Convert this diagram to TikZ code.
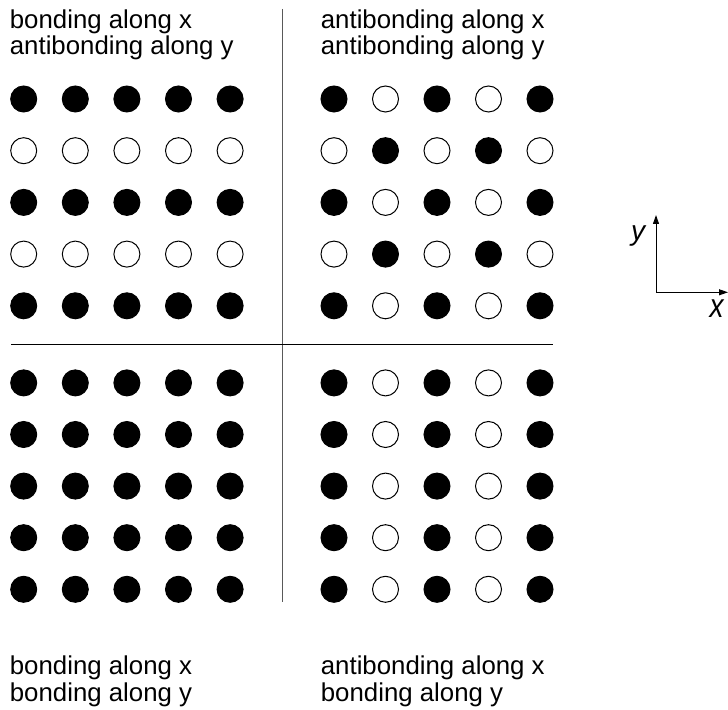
\documentclass[tikz,border=0pt]{standalone}
\usepackage{fontspec}
\setmainfont{Liberation Sans}
\usetikzlibrary{arrows.meta}
\begin{document}
\begin{tikzpicture}[x=0.5pt,y=-0.5pt,
  dotbase/.style={circle,inner sep=0pt,minimum size=13pt,line width=0.5pt,draw=black},
  dot0/.style={dotbase,fill=black},
  dot1/.style={dotbase,fill=white},
  lbl/.style={anchor=base west,inner sep=0pt,font=\fontsize{12.9}{15}\selectfont},
  axlbl/.style={inner sep=0pt,font=\fontsize{14}{16}\selectfont\itshape},
  divider/.style={line width=0.6pt,black!65},
  hdivider/.style={line width=0.5pt,black},
  axisline/.style={line width=0.5pt,-{Triangle[length=4.5pt,width=3pt]}}]
\useasboundingbox (0,0) rectangle (728,710);

% labels
\node[lbl] (tl1) at (9.5,28.3) {bonding along x};
\node[lbl] (tl2) at (9.5,55) {antibonding along y};
\node[lbl] (tr1) at (320.5,28.3) {antibonding along x};
\node[lbl] (tr2) at (320.5,55) {antibonding along y};
\node[lbl] (bl1) at (9.5,674.3) {bonding along x};
\node[lbl] (bl2) at (9.5,701) {bonding along y};
\node[lbl] (br1) at (320.5,674.3) {antibonding along x};
\node[lbl] (br2) at (320.5,701) {bonding along y};

% dividers
\coordinate (vtop) at (282.5,9);
\coordinate (vbot) at (282.5,602);
\coordinate (hl) at (11,344.3);
\coordinate (hr) at (552.7,344.3);
\draw[divider] (vtop) -- (vbot);
\draw[hdivider] (hl) -- (hr);

% dots
\foreach \i in {0,...,4} {
  \foreach \j in {0,...,4} {
    \pgfmathsetmacro\xl{23.7+51.6*\i}
    \pgfmathsetmacro\xr{334+51.5*\i}
    \pgfmathsetmacro\yt{99+51.7*\j}
    \pgfmathsetmacro\yb{382.9+51.6*\j}
    \pgfmathtruncatemacro\ta{mod(\j,2)}
    \pgfmathtruncatemacro\tb{mod(\i+\j,2)}
    \pgfmathtruncatemacro\tc{mod(\i,2)}
    \node[dot\ta] (tl-\i-\j) at (\xl,\yt) {};
    \node[dot\tb] (tr-\i-\j) at (\xr,\yt) {};
    \node[dot0] (bl-\i-\j) at (\xl,\yb) {};
    \node[dot\tc] (br-\i-\j) at (\xr,\yb) {};
  }
}

% axes
\coordinate (O) at (656,292.3);
\coordinate (ytip) at (656,215);
\coordinate (xtip) at (728,292.3);
\draw[axisline] (O) -- (ytip);
\draw[axisline] (O) -- (xtip);
\node[axlbl] (ylbl) at (638,236) {y};
\node[inner sep=0pt] (xlbl) at (716.5,309) {\scalebox{1}[1.2]{\fontsize{14}{16}\selectfont\itshape x}};
\end{tikzpicture}
\end{document}
